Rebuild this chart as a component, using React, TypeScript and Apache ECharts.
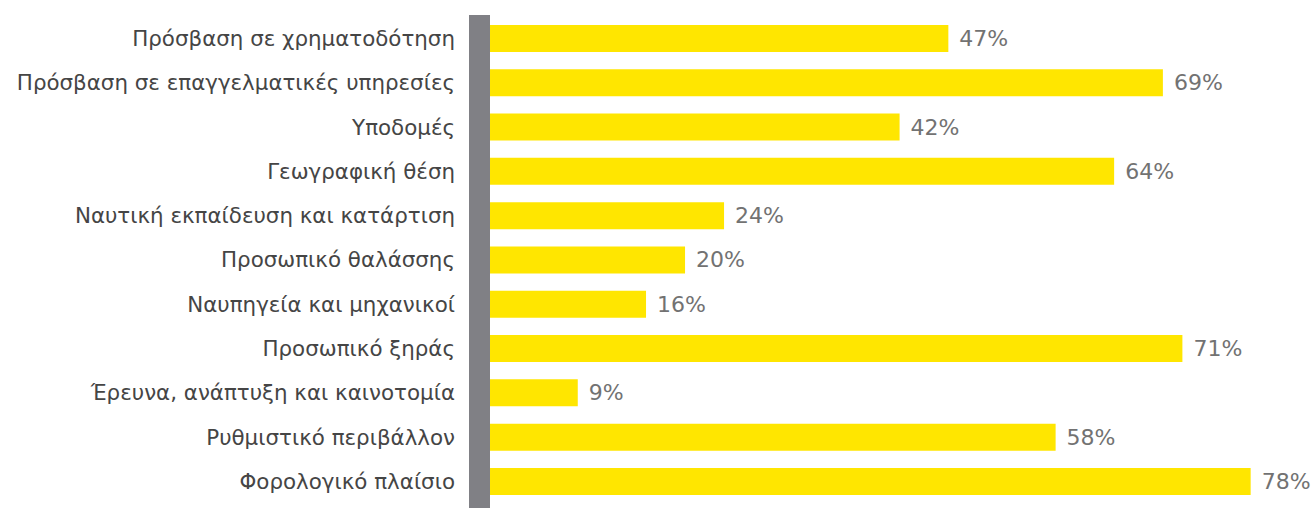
import React, { useEffect, useRef } from "react";
import * as echarts from "echarts";

const categories = [
  "Πρόσβαση σε χρηματοδότηση",
  "Πρόσβαση σε επαγγελματικές υπηρεσίες",
  "Υποδομές",
  "Γεωγραφική θέση",
  "Ναυτική εκπαίδευση και κατάρτιση",
  "Προσωπικό θαλάσσης",
  "Ναυπηγεία και μηχανικοί",
  "Προσωπικό ξηράς",
  "Έρευνα, ανάπτυξη και καινοτομία",
  "Ρυθμιστικό περιβάλλον",
  "Φορολογικό πλαίσιο",
];
const values = [47, 69, 42, 64, 24, 20, 16, 71, 9, 58, 78];

export default function App() {
  const ref = useRef<HTMLDivElement>(null);
  useEffect(() => {
    document.body.style.margin = "0";
    const chart = echarts.init(ref.current!, null, { renderer: "svg" });
    chart.setOption({
      animation: false,
      grid: { left: 490, top: 16.3, right: 0, height: 487.3, containLabel: false },
      xAxis: { type: "value", min: 0, max: 84.7, show: false },
      yAxis: {
        type: "category",
        data: categories,
        inverse: true,
        axisLine: { show: false },
        axisTick: { show: false },
        splitLine: { show: false },
        axisLabel: {
          margin: 35,
          fontSize: 21.4,
          color: "#454545",
          fontFamily: "DejaVu Sans, sans-serif",
        },
      },
      graphic: [
        {
          type: "rect",
          shape: { x: 469, y: 15, width: 21, height: 493 },
          style: { fill: "#808085" },
          z: 10,
        },
      ],
      series: [
        {
          type: "bar",
          data: values,
          barWidth: 27,
          itemStyle: { color: "#FFE600" },
          label: {
            show: true,
            position: "right",
            distance: 11,
            formatter: "{c}%",
            fontSize: 22,
            color: "#727272",
            fontFamily: "DejaVu Sans, sans-serif",
          },
        },
      ],
    });
    return () => chart.dispose();
  }, []);
  return <div ref={ref} style={{ width: 1316, height: 508 }} />;
}
